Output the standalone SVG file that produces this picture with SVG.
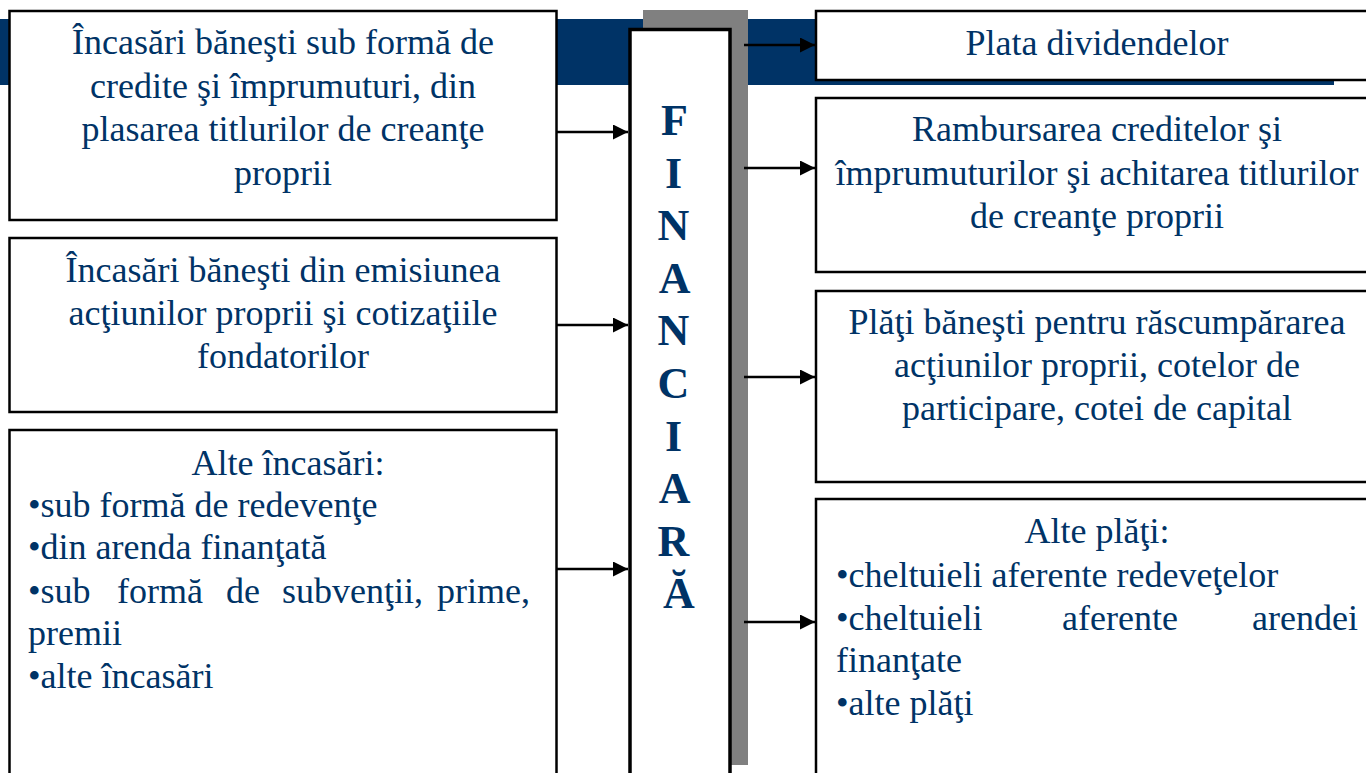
<svg xmlns="http://www.w3.org/2000/svg" width="1366" height="773" viewBox="0 0 1366 773">
<defs>
<marker id="ah" markerWidth="16" markerHeight="16" refX="15" refY="7.5" orient="auto" markerUnits="userSpaceOnUse">
<path d="M0,0 L15,7.5 L0,15 Z" fill="#000"/>
</marker>
<style>
.box{fill:#fff;stroke:#000;stroke-width:2.5}
.t{font-family:"Liberation Serif","Times New Roman",serif;font-size:36px;fill:#003366}
.c{text-anchor:middle}
.title{font-family:"Liberation Serif","Times New Roman",serif;font-size:44px;font-weight:bold;fill:#003366;text-anchor:middle}
.arr{stroke:#000;stroke-width:2.5;fill:none;marker-end:url(#ah)}
</style>
</defs>
<rect width="1366" height="773" fill="#fff"/>
<rect id="band" x="0" y="19" width="1334" height="66" fill="#003366"/>
<rect id="shadow" x="643" y="10" width="105" height="755" fill="#808080"/>
<g id="center">
<rect x="630" y="29.5" width="100" height="760" fill="#fff" stroke="#000" stroke-width="3.5"/>
<text class="title">
<tspan x="679" y="135">F</tspan>
<tspan x="679" y="187.6">I</tspan>
<tspan x="679" y="240.2">N</tspan>
<tspan x="679" y="292.8">A</tspan>
<tspan x="679" y="345.4">N</tspan>
<tspan x="679" y="398">C</tspan>
<tspan x="679" y="450.6">I</tspan>
<tspan x="679" y="503.2">A</tspan>
<tspan x="679" y="555.8">R</tspan>
<tspan x="679" y="608.4">Ă</tspan>
</text>
</g>
<g id="left1">
<rect class="box" x="9.5" y="11" width="547" height="209"/>
<text class="t c"><tspan x="283" y="54">Încasări băneşti sub formă de</tspan><tspan x="283" y="98">credite şi împrumuturi, din</tspan><tspan x="283" y="141">plasarea titlurilor de creanţe</tspan><tspan x="283" y="185">proprii</tspan></text>
</g>
<g id="left2">
<rect class="box" x="9.5" y="238" width="547" height="174"/>
<text class="t c"><tspan x="283" y="282">Încasări băneşti din emisiunea</tspan><tspan x="283" y="325">acţiunilor proprii şi cotizaţiile</tspan><tspan x="283" y="368">fondatorilor</tspan></text>
</g>
<g id="left3">
<rect class="box" x="9.5" y="430" width="547" height="360"/>
<text class="t c" x="288" y="475">Alte încasări:</text>
<text class="t" x="28" y="517">•sub formă de redevenţe</text>
<text class="t" x="28" y="559">•din arenda finanţată</text>
<text class="t" y="603"><tspan x="28">•sub</tspan><tspan x="117">formă</tspan><tspan x="226">de</tspan><tspan x="282">subvenţii,</tspan><tspan x="530" text-anchor="end">prime,</tspan></text>
<text class="t" x="28" y="645">premii</text>
<text class="t" x="28" y="688">•alte încasări</text>
</g>
<g id="right1">
<rect class="box" x="816" y="11" width="570" height="69"/>
<text class="t c" x="1097" y="55">Plata dividendelor</text>
</g>
<g id="right2">
<rect class="box" x="816" y="98" width="570" height="174"/>
<text class="t c"><tspan x="1097" y="141">Rambursarea creditelor şi</tspan><tspan x="1097" y="185">împrumuturilor şi achitarea titlurilor</tspan><tspan x="1097" y="228">de creanţe proprii</tspan></text>
</g>
<g id="right3">
<rect class="box" x="816" y="291" width="570" height="191"/>
<text class="t c"><tspan x="1097" y="334">Plăţi băneşti pentru răscumpărarea</tspan><tspan x="1097" y="377">acţiunilor proprii, cotelor de</tspan><tspan x="1097" y="420">participare, cotei de capital</tspan></text>
</g>
<g id="right4">
<rect class="box" x="816" y="499" width="570" height="300"/>
<text class="t c" x="1097" y="543">Alte plăţi:</text>
<text class="t" x="836" y="587">•cheltuieli aferente redeveţelor</text>
<text class="t" y="630"><tspan x="836">•cheltuieli</tspan><tspan x="1062">aferente</tspan><tspan x="1358" text-anchor="end">arendei</tspan></text>
<text class="t" x="836" y="672">finanţate</text>
<text class="t" x="836" y="715">•alte plăţi</text>
</g>
<g id="connectors">
<line class="arr" x1="557" y1="132" x2="628" y2="132"/>
<line class="arr" x1="557" y1="325" x2="628" y2="325"/>
<line class="arr" x1="557" y1="569" x2="628" y2="569"/>
<line class="arr" x1="744" y1="45" x2="815" y2="45"/>
<line class="arr" x1="744" y1="168" x2="815" y2="168"/>
<line class="arr" x1="744" y1="377" x2="815" y2="377"/>
<line class="arr" x1="744" y1="622" x2="815" y2="622"/>
</g>
</svg>
